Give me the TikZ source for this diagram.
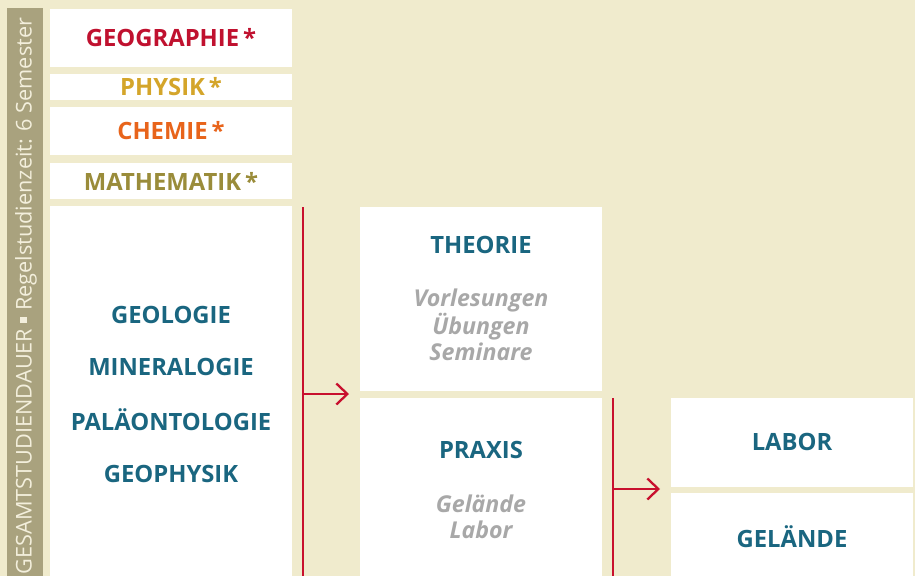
\documentclass[tikz,border=0pt]{standalone}
\usepackage{fontspec}
\setmainfont{Open Sans}
\usetikzlibrary{arrows.meta}
\definecolor{bgbeige}{HTML}{F0EBCD}
\definecolor{barol}{HTML}{A9A27E}
\definecolor{bartext}{HTML}{F3EFDC}
\definecolor{cgeo}{HTML}{C0112F}
\definecolor{cphy}{HTML}{D4A52A}
\definecolor{cche}{HTML}{E8641B}
\definecolor{cmat}{HTML}{9A8C3A}
\definecolor{cblue}{HTML}{1A6680}
\definecolor{cgrey}{HTML}{A8A8A8}
\definecolor{cred}{HTML}{C8102E}
\begin{document}
\begin{tikzpicture}[x=1pt,y=-1pt,
  ttl/.style={font=\fontsize{23.8}{28}\selectfont\bfseries,inner sep=0pt,align=center},
  sub/.style={font=\fontsize{23.2}{26}\selectfont\bfseries\itshape,text=cgrey,inner sep=0pt,align=center},
  link/.style={draw=cred,line width=2.3pt},
  arr/.style={link,-{Straight Barb[length=11pt,width=21pt,line width=2.3pt]}}]
\fill[bgbeige] (0,0) rectangle (915,576);
\useasboundingbox (0,0) rectangle (915,576);
% left bar
\fill[barol] (7,8) rectangle (43,576);
\node[rotate=90,inner sep=0pt,text=bartext,font=\fontsize{21.7}{24}\selectfont] (bar) at (26,296)
  {GESAMTSTUDIENDAUER \raisebox{0.22em}{\rule{0.3em}{0.3em}} Regelstudienzeit: 6 Semester};
% top boxes
\fill[white] (50,9) rectangle (292,67);
\fill[white] (50,74) rectangle (292,100);
\fill[white] (50,107) rectangle (292,155);
\fill[white] (50,163) rectangle (292,199);
\fill[white] (50,206) rectangle (292,576);
\node[ttl,text=cgeo] (geo) at (171,38) {GEOGRAPHIE\,*};
\node[ttl,text=cphy] (phy) at (171,87) {PHYSIK\,*};
\node[ttl,text=cche] (che) at (171,131) {CHEMIE\,*};
\node[ttl,text=cmat] (mat) at (171,181) {MATHEMATIK\,*};
\node[ttl,text=cblue] (gl) at (171,315) {GEOLOGIE};
\node[ttl,text=cblue] (mi) at (171,367) {MINERALOGIE};
\node[ttl,text=cblue] (pa) at (171,420) {PALÄONTOLOGIE};
\node[ttl,text=cblue] (gp) at (171,474) {GEOPHYSIK};
% middle boxes
\fill[white] (360,207) rectangle (602,391);
\fill[white] (360,398) rectangle (602,576);
\node[ttl,text=cblue] (th) at (481,245) {THEORIE};
\node[sub] (thsub) at (481,325) {Vorlesungen\\Übungen\\Seminare};
\node[ttl,text=cblue] (pr) at (481,450) {PRAXIS};
\node[sub] (prsub) at (481,517) {Gelände\\Labor};
% right boxes
\fill[white] (671,398) rectangle (913,487);
\fill[white] (671,493) rectangle (913,576);
\node[ttl,text=cblue] (lab) at (792,442) {LABOR};
\node[ttl,text=cblue] (gel) at (792,537) {GELÄNDE};
% connectors
\coordinate (a1) at (303,207);
\coordinate (a2) at (303,576);
\coordinate (a3) at (303,394);
\coordinate (a4) at (349,394);
\draw[link] (a1) -- (a2);
\draw[arr] (a3) -- (a4);
\coordinate (b1) at (613,398);
\coordinate (b2) at (613,576);
\coordinate (b3) at (613,489);
\coordinate (b4) at (660,489);
\draw[link] (b1) -- (b2);
\draw[arr] (b3) -- (b4);
\end{tikzpicture}
\end{document}
